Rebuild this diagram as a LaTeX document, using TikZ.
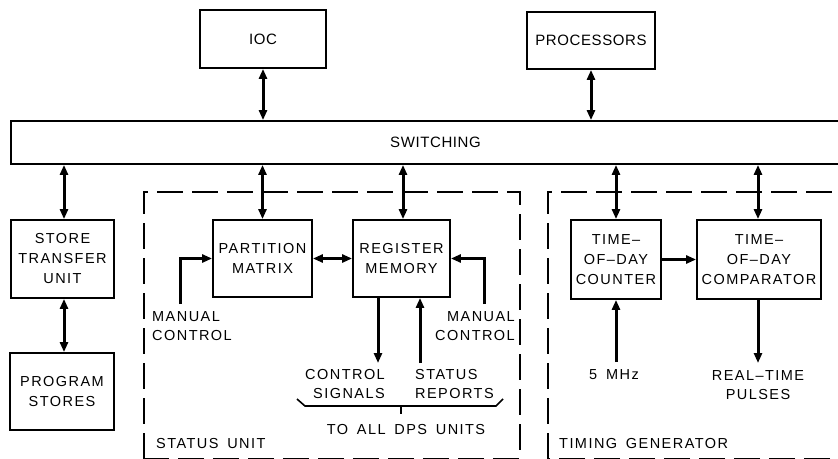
\documentclass[tikz,border=0pt]{standalone}
\usepackage{fontspec}
\setmainfont{Liberation Sans}
\newfontfamily\labfont[LetterSpace=10,WordSpace=1.6]{Liberation Sans}
\newfontfamily\titfont[LetterSpace=4]{Liberation Sans}
\usetikzlibrary{arrows.meta}
\begin{document}
\begin{tikzpicture}[x=1pt,y=-1pt,
  box/.style={draw,line width=1.8pt,rectangle,inner sep=0pt,align=center,font=\fontsize{14.5}{20}\labfont},
  tbox/.style={draw,line width=1.8pt,rectangle,inner sep=0pt,align=center,font=\fontsize{15}{20}\titfont},
  lbl/.style={inner sep=0pt,font=\fontsize{14.5}{19.5}\labfont},
  arr/.style={line width=3pt,-{Triangle[length=10pt,width=8pt]}},
  dbl/.style={line width=3pt,{Triangle[length=10pt,width=8pt]}-{Triangle[length=10pt,width=8pt]}},
  grp/.style={line width=1.6pt,dash pattern=on 26pt off 9pt},
  brace/.style={line width=1.6pt}]
\useasboundingbox (0,0) rectangle (838,458);
% top boxes
\node[tbox,minimum width=126pt,minimum height=58pt] (ioc) at (263,39) {IOC};
\node[tbox,minimum width=128pt,minimum height=57pt] (proc) at (591,40.5) {PROCESSORS};
\node[tbox,minimum width=849pt,minimum height=43pt] (sw) at (435.5,142.5) {SWITCHING};
% group frames
\draw[grp] (144,458.6) -- (144,192) -- (520,192) -- (520,458.6) -- cycle;
\draw[grp] (548,458.6) -- (548,192) -- (860,192) -- (860,458.6) -- cycle;
% left column
\node[box,minimum width=103pt,minimum height=78pt] (stu) at (62.5,259) {STORE\\TRANSFER\\UNIT};
\node[box,minimum width=104pt,minimum height=77pt] (ps) at (62,391.5) {PROGRAM\\STORES};
% status unit
\node[box,minimum width=99pt,minimum height=77pt] (pm) at (262.5,258.5) {PARTITION\\MATRIX};
\node[box,minimum width=97pt,minimum height=77pt] (rm) at (401.5,258.5) {REGISTER\\MEMORY};
% timing generator
\node[box,minimum width=90pt,minimum height=79pt] (tdc) at (616,259.5) {TIME–\\OF–DAY\\COUNTER};
\node[box,minimum width=124pt,minimum height=79pt] (tdcmp) at (759,259.5) {TIME–\\OF–DAY\\COMPARATOR};
% labels
\node[lbl,anchor=west,align=left] (mcl) at (152,326) {MANUAL\\CONTROL};
\node[lbl,anchor=east,align=right] (mcr) at (515,326) {MANUAL\\CONTROL};
\node[lbl,anchor=east,align=right] (cs) at (385,384) {CONTROL\\SIGNALS};
\node[lbl,anchor=west,align=left] (sr) at (415,384) {STATUS\\REPORTS};
\node[lbl] (all) at (406,430) {TO ALL DPS UNITS};
\node[lbl,anchor=west] (su) at (156,444) {STATUS UNIT};
\node[lbl,anchor=west] (tg) at (559,444) {TIMING GENERATOR};
\node[lbl] (mhz) at (614,375) {5 MHz};
\node[lbl,align=center] (rtp) at (758,385) {REAL–TIME\\PULSES};
% free ends
\coordinate (mcls) at (180,304);
\coordinate (mcrs) at (484,304);
\coordinate (cse) at (378,363);
\coordinate (srs) at (420,363);
\coordinate (mhzs) at (616,362);
\coordinate (rtpe) at (758,363);
% connectors to switching
\draw[dbl] (ioc.south) -- (ioc.south |- sw.north);
\draw[dbl] (proc.south) -- (proc.south |- sw.north);
\draw[dbl] (sw.south -| 64,0) -- (stu.north -| 64,0);
\draw[dbl] (stu.south -| 64,0) -- (ps.north -| 64,0);
\draw[dbl] (sw.south -| pm.north) -- (pm.north);
\draw[dbl] (sw.south -| 403,0) -- (rm.north -| 403,0);
\draw[dbl] (sw.south -| tdc.north) -- (tdc.north);
\draw[dbl] (sw.south -| 758,0) -- (tdcmp.north -| 758,0);
% inner connectors
\draw[dbl] (pm.east) -- (rm.west);
\draw[arr] (mcls) |- (pm.west);
\draw[arr] (mcrs) |- (rm.east);
\draw[arr] (rm.south -| cse) -- (cse);
\draw[arr] (srs) -- (srs |- rm.south);
\draw[arr] (tdc.east) -- (tdcmp.west);
\draw[arr] (mhzs) -- (tdc.south);
\draw[arr] (tdcmp.south -| rtpe) -- (rtpe);
% brace
\draw[brace] (297,399) -- (305,406) -- (496,406) -- (503,399);
\draw[brace] (401,406) -- (401,414);
\end{tikzpicture}
\end{document}
